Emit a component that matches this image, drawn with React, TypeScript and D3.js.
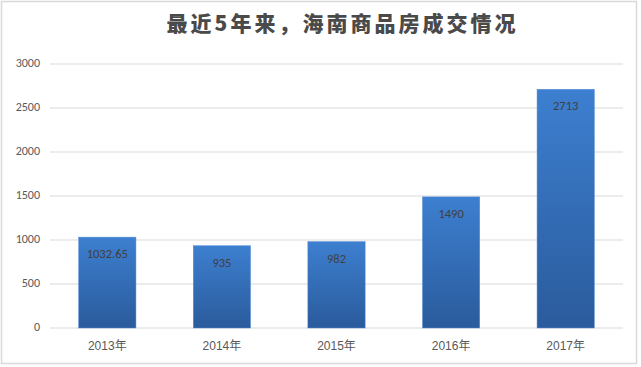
import React, { useEffect, useRef } from 'react';
import * as d3 from 'd3';

const years = ['2013年', '2014年', '2015年', '2016年', '2017年'];
const volumes = [1032.65, 935, 982, 1490, 2713];
const volumeLabels = ['1032.65', '935', '982', '1490', '2713'];
const yTicks = [0, 500, 1000, 1500, 2000, 2500, 3000];
const chartTitle = '最近5年来，海南商品房成交情况';

const App: React.FC = () => {
  const svgRef = useRef<SVGSVGElement>(null);

  useEffect(() => {
    if (!svgRef.current) {return;}
    const svg = d3.select(svgRef.current);
    svg.selectAll('*').remove();

    const width = 641;
    const height = 367;
    const plot = { left: 50, right: 623, top: 64, bottom: 328 };

    // 外框
    svg.append('rect')
      .attr('x', 1.5).attr('y', 1.5)
      .attr('width', 635).attr('height', 362)
      .attr('fill', '#fff')
      .attr('stroke', '#d9d9d9')
      .attr('stroke-width', 1.5);

    // 渐变
    const defs = svg.append('defs');
    const grad = defs.append('linearGradient')
      .attr('id', 'barGrad')
      .attr('x1', 0).attr('y1', 0).attr('x2', 0).attr('y2', 1);
    grad.append('stop').attr('offset', '0%').attr('stop-color', '#3d7fd0');
    grad.append('stop').attr('offset', '100%').attr('stop-color', '#2a5b9c');

    const x = d3.scaleBand<string>()
      .domain(years)
      .range([plot.left, plot.right])
      .paddingInner(0.5)
      .paddingOuter(0.25);

    const y = d3.scaleLinear()
      .domain([0, 3000])
      .range([plot.bottom, plot.top]);

    // 网格线
    svg.append('g')
      .selectAll('line')
      .data(yTicks)
      .enter()
      .append('line')
      .attr('x1', plot.left)
      .attr('x2', plot.right)
      .attr('y1', d => y(d))
      .attr('y2', d => y(d))
      .attr('stroke', '#d9d9d9')
      .attr('stroke-width', 1);

    // Y 轴标签
    svg.append('g')
      .selectAll('text')
      .data(yTicks)
      .enter()
      .append('text')
      .attr('x', 40)
      .attr('y', d => y(d))
      .attr('text-anchor', 'end')
      .attr('dominant-baseline', 'middle')
      .attr('font-family', 'Calibri, Carlito, "Liberation Sans", sans-serif')
      .attr('font-size', 12)
      .attr('fill', '#595959')
      .text(d => d);

    // 柱子
    svg.append('g')
      .selectAll('rect')
      .data(volumes)
      .enter()
      .append('rect')
      .attr('x', (d, i) => x(years[i]) || 0)
      .attr('y', d => y(d))
      .attr('width', x.bandwidth())
      .attr('height', d => y(0) - y(d))
      .attr('fill', 'url(#barGrad)')
      .attr('stroke', '#5b8fd6')
      .attr('stroke-width', 0.5);

    // 数值标签
    svg.append('g')
      .selectAll('text')
      .data(volumes)
      .enter()
      .append('text')
      .attr('x', (d, i) => (x(years[i]) || 0) + x.bandwidth() / 2)
      .attr('y', d => y(d) + 18)
      .attr('text-anchor', 'middle')
      .attr('dominant-baseline', 'middle')
      .attr('font-family', 'Calibri, Carlito, "Liberation Sans", sans-serif')
      .attr('font-size', 12.5)
      .attr('fill', '#404040')
      .text((d, i) => volumeLabels[i]);

    // X 轴标签
    svg.append('g')
      .selectAll('text')
      .data(years)
      .enter()
      .append('text')
      .attr('x', d => (x(d) || 0) + x.bandwidth() / 2)
      .attr('y', 347)
      .attr('text-anchor', 'middle')
      .attr('dominant-baseline', 'middle')
      .attr('font-family', '"Liberation Sans", "Noto Sans CJK SC", sans-serif')
      .attr('font-size', 12)
      .attr('fill', '#595959')
      .text(d => d);

    // 标题
    svg.append('text')
      .attr('x', width / 2 + 22)
      .attr('y', 25)
      .attr('text-anchor', 'middle')
      .attr('dominant-baseline', 'middle')
      .attr('font-family', '"Noto Sans CJK SC", sans-serif')
      .attr('font-weight', 900)
      .attr('font-size', 21)
      .attr('letter-spacing', 3)
      .attr('fill', '#4a4a4a')
      .text(chartTitle);

    svg.attr('height', height);
  }, []);

  return (
    <svg
      ref={svgRef}
      width={641}
      height={367}
      style={{ position: 'absolute', left: 0, top: 0, display: 'block' }}
    />
  );
};

export default App;
